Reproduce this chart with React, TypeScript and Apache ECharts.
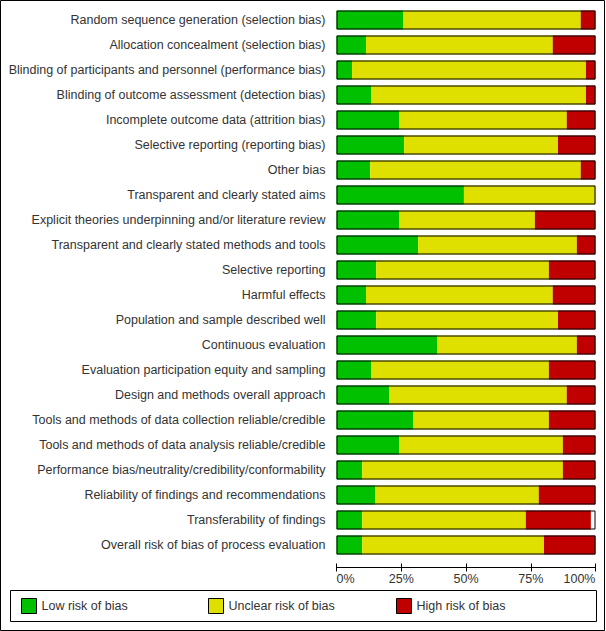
import React, { useEffect, useRef } from "react";
import * as echarts from "echarts";

const categories = [
  "Random sequence generation (selection bias)",
  "Allocation concealment (selection bias)",
  "Blinding of participants and personnel (performance bias)",
  "Blinding of outcome assessment (detection bias)",
  "Incomplete outcome data (attrition bias)",
  "Selective reporting (reporting bias)",
  "Other bias",
  "Transparent and clearly stated aims",
  "Explicit theories underpinning and/or literature review",
  "Transparent and clearly stated methods and tools",
  "Selective reporting",
  "Harmful effects",
  "Population and sample described well",
  "Continuous evaluation",
  "Evaluation participation equity and sampling",
  "Design and methods overall approach",
  "Tools and methods of data collection reliable/credible",
  "Tools and methods of data analysis reliable/credible",
  "Performance bias/neutrality/credibility/conformability",
  "Reliability of findings and recommendations",
  "Transferability of findings",
  "Overall risk of bias of process evaluation",
];

const lowRisk = [25.7, 11.4, 6.0, 13.4, 24.2, 26.1, 13.0, 49.2, 24.2, 31.5, 15.3, 11.4, 15.3, 38.8, 13.4, 20.3, 29.6, 24.2, 9.9, 14.9, 9.9, 9.9];
const unclearRisk = [68.6, 72.1, 90.3, 82.9, 64.7, 59.4, 81.3, 50.8, 52.4, 61.3, 66.7, 72.1, 70.2, 54.0, 68.6, 68.6, 52.4, 63.2, 77.5, 63.2, 63.2, 70.2];
const highRisk = [5.7, 16.5, 3.7, 3.7, 11.1, 14.5, 5.7, 0, 23.4, 7.2, 18.0, 16.5, 14.5, 7.2, 18.0, 11.1, 18.0, 12.6, 12.6, 21.9, 25.1, 19.9];
const fullScale = categories.map(() => 100);

const seriesNames = ["Low risk of bias", "Unclear risk of bias", "High risk of bias"];
const seriesColors = ["#00C000", "#E0E000", "#C00000"];
const tickLabels = ["0%", "25%", "50%", "75%", "100%"];

const FONT = "'Liberation Sans', Arial, sans-serif";
const TEXT = "#333";
const FS = 12.5;

export default function App() {
  const ref = useRef<HTMLDivElement>(null);
  useEffect(() => {
    document.body.style.margin = "0";
    if (!ref.current) return;
    const chart = echarts.init(ref.current, null, { renderer: "svg" });
    const values = [lowRisk, unclearRisk, highRisk];
    const legendLefts = [21, 208, 396];
    const baseX = {
      type: "value",
      min: 0,
      max: 100,
      interval: 25,
      position: "bottom",
      offset: 10,
      gridIndex: 0,
      splitLine: { show: false },
      axisLine: { show: true, lineStyle: { color: "#000", width: 1 } },
    };
    chart.setOption({
      animation: false,
      backgroundColor: "#fff",
      textStyle: { fontFamily: FONT },
      grid: { left: 336.5, top: 7.5, width: 259, height: 550, containLabel: false },
      xAxis: [
        {
          ...baseX,
          axisTick: { show: true, length: 4, lineStyle: { color: "#000" } },
          axisLabel: {
            show: true,
            margin: 5,
            color: TEXT,
            fontSize: FS,
            fontFamily: FONT,
            alignMinLabel: "left",
            alignMaxLabel: "right",
            formatter: (v: number) => tickLabels[Math.round(v / 25)],
          },
        },
        {
          ...baseX,
          axisTick: { show: true, inside: true, length: 4, lineStyle: { color: "#000" } },
          axisLabel: { show: false },
        },
      ],
      yAxis: {
        type: "category",
        data: categories,
        inverse: true,
        axisLine: { show: false },
        axisTick: { show: false },
        splitLine: { show: false },
        axisLabel: {
          margin: 11,
          color: TEXT,
          fontSize: FS,
          fontFamily: FONT,
          padding: [7, 0, 0, 0],
        },
      },
      legend: seriesNames.map((n, i) => ({
        data: [n],
        left: legendLefts[i],
        top: 598,
        padding: 0,
        itemWidth: 15,
        itemHeight: 15,
        icon: "rect",
        selectedMode: false,
        itemStyle: { borderColor: "#000", borderWidth: 1 },
        textStyle: { color: TEXT, fontSize: FS, fontFamily: FONT },
      })),
      series: [
        ...seriesNames.map((n, i) => ({
          name: n,
          type: "bar",
          stack: "risk",
          barWidth: 19,
          xAxisIndex: 0,
          data: values[i],
          itemStyle: { color: seriesColors[i] },
          silent: true,
        })),
        {
          name: "frame",
          type: "bar",
          barWidth: 19,
          barGap: "-100%",
          xAxisIndex: 0,
          data: fullScale,
          z: 5,
          silent: true,
          itemStyle: { color: "rgba(0,0,0,0)", borderColor: "#000", borderWidth: 1 },
        },
      ],
      graphic: [
        {
          type: "rect",
          shape: { x: 0.5, y: 0.5, width: 604, height: 630 },
          style: { fill: "none", stroke: "#000", lineWidth: 1 },
          silent: true,
        },
        {
          type: "rect",
          shape: { x: 10.5, y: 590.5, width: 586, height: 31 },
          style: { fill: "none", stroke: "#000", lineWidth: 1 },
          silent: true,
        },
      ],
    });
    return () => chart.dispose();
  }, []);
  return <div ref={ref} style={{ width: 606, height: 631 }} />;
}
